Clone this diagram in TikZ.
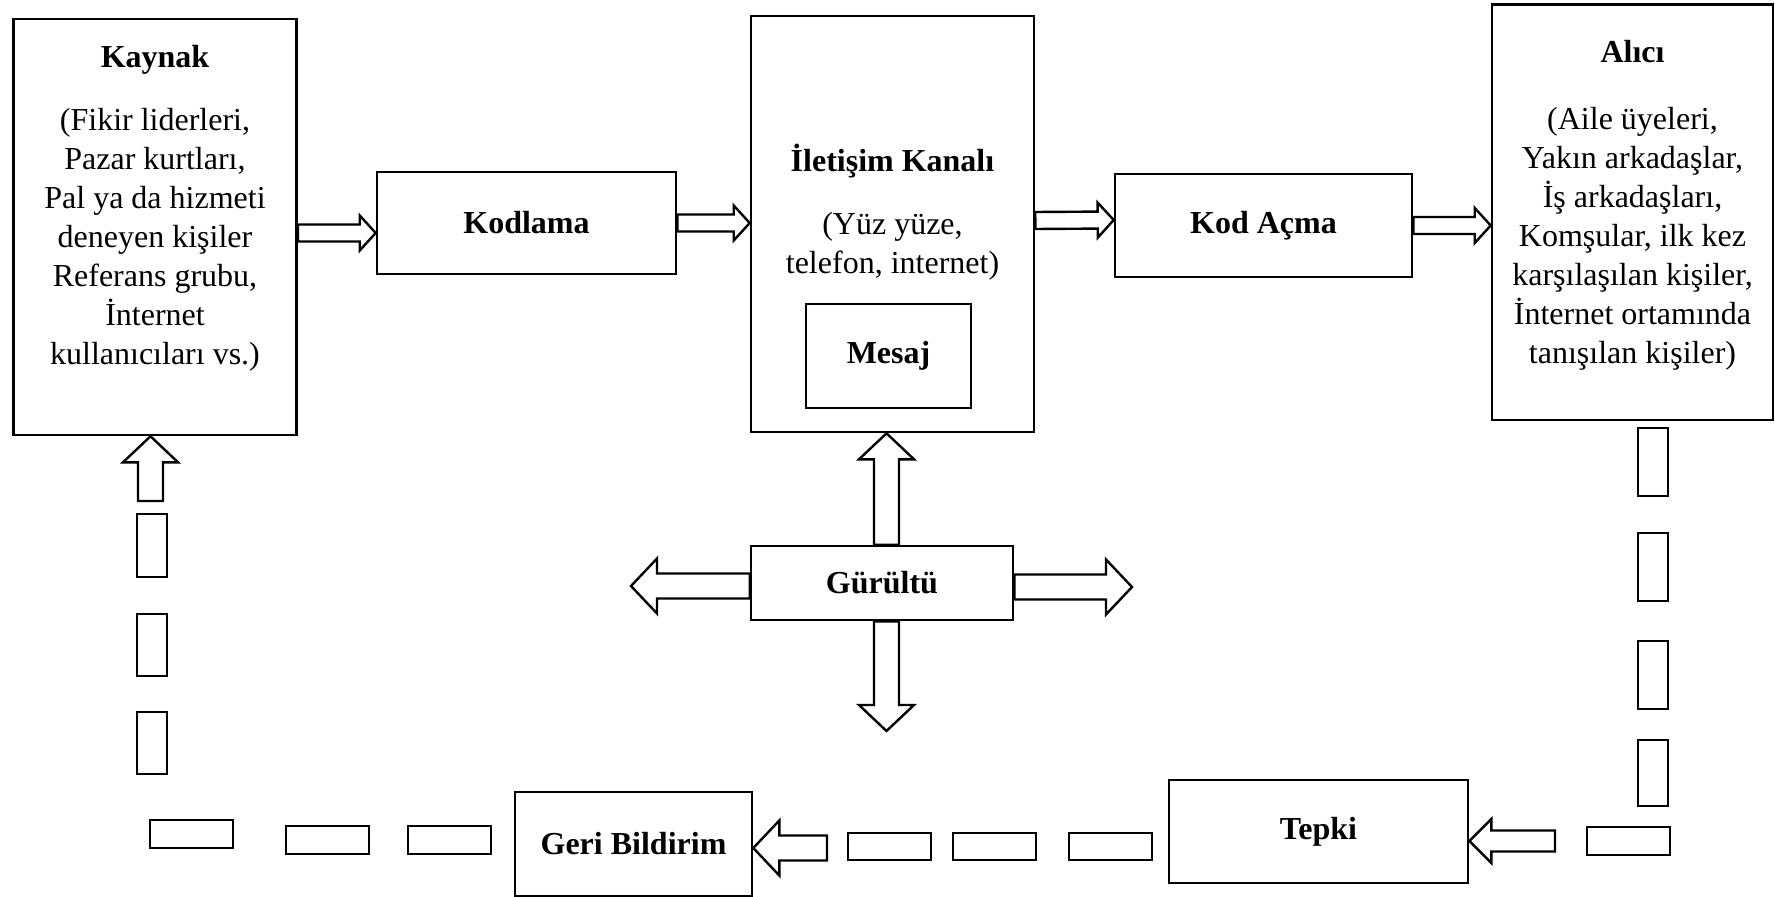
\documentclass[tikz,border=0pt]{standalone}
\usepackage{fontspec}
\setmainfont{Liberation Serif}
\usetikzlibrary{calc,positioning}

\tikzset{
  box/.style={draw, line width=1.3pt, rectangle, inner sep=0pt, align=center,
    font=\fontsize{16}{19.5}\selectfont\bfseries},
  boxtext/.style={inner sep=0pt, align=center, font=\fontsize{16}{19.5}\selectfont},
  blockarrow/.style n args={3}{draw, fill=white, line width=1.2pt, line join=miter,
    to path={($(\tikztostart)!#1!90:(\tikztotarget)$)
      -- ($(\tikztotarget)!#3!(\tikztostart)!#1!-90:(\tikztostart)$)
      -- ($(\tikztotarget)!#3!(\tikztostart)!#2!-90:(\tikztostart)$)
      -- (\tikztotarget)
      -- ($(\tikztotarget)!#3!(\tikztostart)!#2!90:(\tikztostart)$)
      -- ($(\tikztotarget)!#3!(\tikztostart)!#1!90:(\tikztostart)$)
      -- ($(\tikztostart)!#1!-90:(\tikztotarget)$) -- cycle}},
  smallarrow/.style={blockarrow={4.25pt}{8.75pt}{8pt}},
  midarrow/.style={blockarrow={5.25pt}{11pt}{11pt}},
  bigarrow/.style={blockarrow={6.25pt}{13.75pt}{13pt}},
  dashbox/.style={draw, line width=1.3pt}
}

\begin{document}
\begin{tikzpicture}[x=0.5pt, y=-0.5pt]
  \useasboundingbox (0,0) rectangle (1775,897);

  \begin{scope}[every node/.style={box}]
    \node[minimum width=141.5pt, minimum height=208pt] (kaynak) at (155,227) {};
    \node[minimum width=149.5pt, minimum height=51pt] (kodlama) at (526.5,223) {Kodlama};
    \node[minimum width=141.5pt, minimum height=208pt] (kanal) at (892.5,224) {};
    \node[minimum width=82.5pt, minimum height=52pt] (mesaj) at (888.5,356) {Mesaj};
    \node[minimum width=148.5pt, minimum height=51.5pt] (kodacma) at (1263.5,225.5) {Kod Açma};
    \node[minimum width=140.5pt, minimum height=207.75pt] (alici) at (1632.5,212.25) {};
    \node[minimum width=131pt, minimum height=37pt] (gurultu) at (882,583) {Gürültü};
    \node[minimum width=118.5pt, minimum height=52pt] (geri) at (633.5,844) {Geri Bildirim};
    \node[minimum width=149.5pt, minimum height=51.5pt] (tepki) at (1318.5,831.5) {Tepki};
  \end{scope}

  \begin{scope}[every node/.style={boxtext}]
    \node[below=13.7pt of kaynak.north] (kaynaktext) {\textbf{Kaynak}\\[12pt]
      (Fikir liderleri,\\ Pazar kurtları,\\ Pal ya da hizmeti\\ deneyen kişiler\\
      Referans grubu,\\ İnternet\\ kullanıcıları vs.)};
    \node[below=64.5pt of kanal.north] (kanaltext) {\textbf{İletişim Kanalı}\\[12pt]
      (Yüz yüze,\\ telefon, internet)};
    \node[below=18.5pt of alici.north] (alicitext) {\textbf{Alıcı}\\[14pt]
      (Aile üyeleri,\\ Yakın arkadaşlar,\\ İş arkadaşları,\\ Komşular, ilk kez\\
      karşılaşılan kişiler,\\ İnternet ortamında\\ tanışılan kişiler)};
  \end{scope}

  \coordinate (noisex) at (886.5,583);
  \coordinate (noisedown) at (886.5,731);
  \coordinate (noiseleft) at (631,586);
  \coordinate (noiseright) at (1132,587);
  \coordinate (tepkiin) at (1555,841);
  \coordinate (geriin) at (827,848);
  \coordinate (kaynakin) at (150.5,501);

  % main line
  \path ([yshift=-3pt]kaynak.east) edge[smallarrow] ([yshift=-5pt]kodlama.west);
  \path (kodlama.east) edge[smallarrow] (kodlama.east -| kanal.west);
  \path ([yshift=1.75pt]kanal.east) edge[smallarrow] ([yshift=2.75pt]kodacma.west);
  \path (kodacma.east) edge[smallarrow] (kodacma.east -| alici.west);

  % noise
  \path (noisex |- gurultu.north) edge[bigarrow] (noisex |- kanal.south);
  \path (noisex |- gurultu.south) edge[bigarrow] (noisedown);
  \path (noiseleft -| gurultu.west) edge[bigarrow] (noiseleft);
  \path (noiseright -| gurultu.east) edge[bigarrow] (noiseright);

  % feedback
  \draw[dashbox] (1638,428) rectangle (1668,496);
  \draw[dashbox] (1638,533) rectangle (1668,601);
  \draw[dashbox] (1638,641) rectangle (1668,709);
  \draw[dashbox] (1638,740) rectangle (1668,806);
  \draw[dashbox] (1587,827) rectangle (1670,855);
  \path (tepkiin) edge[midarrow] (tepkiin -| tepki.east);
  \draw[dashbox] (1069,833) rectangle (1152,860);
  \draw[dashbox] (953,833) rectangle (1036,860);
  \draw[dashbox] (848,833) rectangle (931,860);
  \path (geriin) edge[bigarrow] (geriin -| geri.east);
  \draw[dashbox] (408,826) rectangle (491,854);
  \draw[dashbox] (286,826) rectangle (369,854);
  \draw[dashbox] (150,820) rectangle (233,848);
  \draw[dashbox] (137,712) rectangle (167,774);
  \draw[dashbox] (137,614) rectangle (167,676);
  \draw[dashbox] (137,514) rectangle (167,577);
  \path (kaynakin) edge[bigarrow] (kaynakin |- kaynak.south);

\end{tikzpicture}
\end{document}
